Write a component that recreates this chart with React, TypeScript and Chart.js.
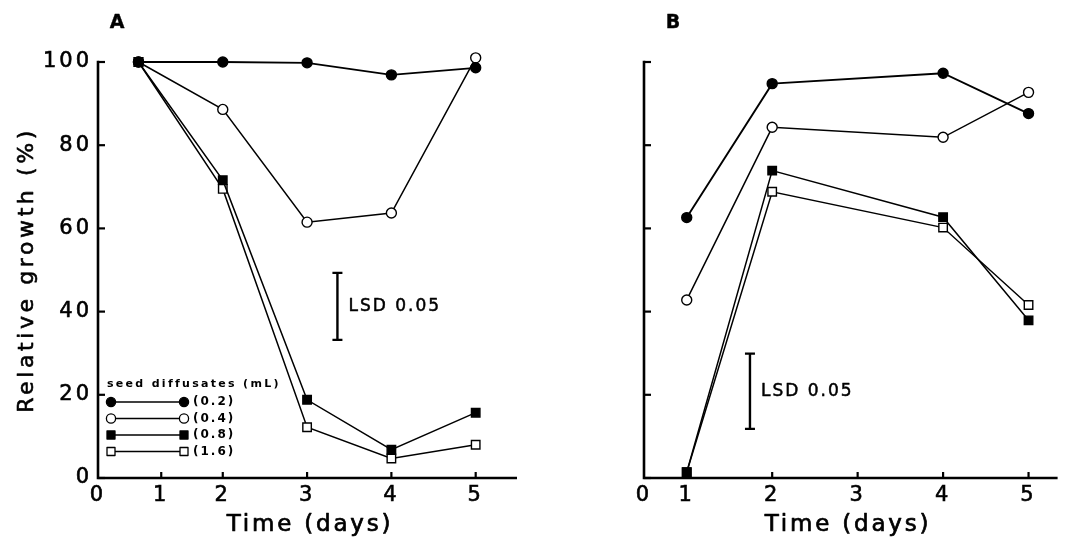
import { useEffect, useRef } from "react";
import { Chart, registerables } from "chart.js";

Chart.register(...registerables);

// ---------------- data ----------------
const seriesLabels = ["(0.2)", "(0.4)", "(0.8)", "(1.6)"];
const legendTitle = "seed diffusates (mL)";

const daysA = [1, 2, 3, 4, 5];
const growthA_02 = [100, 100, 99.8, 96.9, 98.6];
const growthA_04 = [100, 88.6, 61.5, 63.7, 101];
const growthA_08 = [100, 71.6, 18.8, 6.8, 15.7];
const growthA_16 = [100, 69.5, 12.2, 4.7, 8.0];

const daysB = [1, 2, 4, 5];
const growthB_02 = [62.6, 94.8, 97.3, 87.6];
const growthB_04 = [42.8, 84.3, 81.9, 92.7];
const growthB_08 = [1.4, 73.9, 62.7, 37.9];
const growthB_16 = [1.4, 68.8, 60.2, 41.6];

// LSD bars: [day, low, high]
const lsdA = [3.36, 33.2, 49.3];
const lsdB = [1.74, 11.8, 29.9];

const xTickLabels = ["0", "1", "2", "3", "4", "5"];
const xTickPosA = [0.52, 1.27, 2, 3, 4, 5];
const xTickPosB = [0.5, 1, 2, 3, 4, 5];
const yTicks = [0, 20, 40, 60, 80, 100];
const yTickLabels = ["0", "20", "40", "60", "80", "100"];

const FONT = "'DejaVu Sans', 'Liberation Sans', sans-serif";

// marker styles per series
const markerStyles = [
  { style: "circle", fill: "#000" },
  { style: "circle", fill: "#fff" },
  { style: "rect", fill: "#000" },
  { style: "rect", fill: "#fff" },
];

function makeDatasets(days: number[], series: number[][]) {
  return series.map((vals, si) => {
    const m = markerStyles[si];
    return {
      label: seriesLabels[si],
      data: days.map((d, i) => ({ x: d, y: vals[i] })),
      borderColor: "#000",
      borderWidth: si === 0 ? 1.9 : 1.5,
      pointStyle: m.style,
      pointRadius: m.style === "rect" ? 6 : 5,
      pointBackgroundColor: m.fill,
      pointBorderColor: "#000",
      pointBorderWidth: 1.4,
      tension: 0,
      clip: false as any,
      fill: false,
    };
  });
}

type PanelCfg = {
  letter: string;
  letterX: number;
  days: number[];
  series: number[][];
  xMin: number;
  xMax: number;
  xTickPos: number[];
  yAxisWidth: number;
  rightPad: number;
  showYLabels: boolean;
  lsd: number[];
  timeX: number;
  legend: boolean;
};

function drawMarker(ctx: CanvasRenderingContext2D, x: number, y: number, si: number) {
  const m = markerStyles[si];
  ctx.save();
  ctx.fillStyle = m.fill;
  ctx.strokeStyle = "#000";
  ctx.lineWidth = 1.3;
  ctx.beginPath();
  if (m.style === "circle") {
    ctx.arc(x, y, 4.6, 0, Math.PI * 2);
  } else {
    ctx.rect(x - 4, y - 4, 8, 8);
  }
  ctx.fill();
  ctx.stroke();
  ctx.restore();
}

function boldText(ctx: CanvasRenderingContext2D, text: string, x: number, y: number, w: number) {
  ctx.lineWidth = w;
  ctx.lineJoin = "round";
  ctx.strokeText(text, x, y);
  ctx.fillText(text, x, y);
}

function makeDeco(cfg: PanelCfg) {
  return {
    id: "deco" + cfg.letter,
    beforeDraw(chart: any) {
      (chart.ctx as any).letterSpacing = "3px";
    },
    beforeDatasetsDraw(chart: any) {
      const ctx: CanvasRenderingContext2D = chart.ctx;
      const { left, right, top, bottom } = chart.chartArea;
      const xs = chart.scales.x;
      const ys = chart.scales.y;
      ctx.save();
      ctx.strokeStyle = "#000";
      ctx.lineWidth = 2.6;
      ctx.lineCap = "butt";
      ctx.beginPath();
      ctx.moveTo(left, top - 1.3);
      ctx.lineTo(left, bottom);
      ctx.lineTo(right, bottom);
      ctx.stroke();
      ctx.lineWidth = 2.2;
      for (const v of yTicks) {
        const y = ys.getPixelForValue(v);
        ctx.beginPath();
        ctx.moveTo(left, y);
        ctx.lineTo(left + 7, y);
        ctx.stroke();
      }
      cfg.xTickPos.forEach((v, i) => {
        if (i === 0) return;
        const x = xs.getPixelForValue(v);
        ctx.beginPath();
        ctx.moveTo(x, bottom);
        ctx.lineTo(x, bottom - 6);
        ctx.stroke();
      });
      ctx.restore();
    },
    afterDatasetsDraw(chart: any) {
      const ctx: CanvasRenderingContext2D = chart.ctx;
      const { top, bottom } = chart.chartArea;
      const xs = chart.scales.x;
      const ys = chart.scales.y;
      ctx.save();
      ctx.fillStyle = "#000";
      ctx.strokeStyle = "#000";

      // LSD bar
      const lx = xs.getPixelForValue(cfg.lsd[0]);
      const ly1 = ys.getPixelForValue(cfg.lsd[1]);
      const ly2 = ys.getPixelForValue(cfg.lsd[2]);
      ctx.lineWidth = 2.4;
      ctx.beginPath();
      ctx.moveTo(lx, ly1);
      ctx.lineTo(lx, ly2);
      ctx.moveTo(lx - 5, ly1);
      ctx.lineTo(lx + 5, ly1);
      ctx.moveTo(lx - 5, ly2);
      ctx.lineTo(lx + 5, ly2);
      ctx.stroke();
      (ctx as any).letterSpacing = "2px";
      ctx.font = `17px ${FONT}`;
      ctx.textAlign = "left";
      ctx.textBaseline = "middle";
      boldText(ctx, "LSD 0.05", lx + 11, (ly1 + ly2) / 2, 0.5);

      // panel letter
      (ctx as any).letterSpacing = "0px";
      ctx.font = `bold 19px ${FONT}`;
      ctx.textAlign = "center";
      boldText(ctx, cfg.letter, cfg.letterX, 23, 0.4);

      // x title
      (ctx as any).letterSpacing = "2.8px";
      ctx.font = `23px ${FONT}`;
      ctx.textAlign = "center";
      boldText(ctx, "Time (days)", cfg.timeX, 525, 0.7);

      // y title
      if (cfg.showYLabels) {
        ctx.save();
        ctx.translate(27, (top + bottom) / 2);
        ctx.rotate(-Math.PI / 2);
        (ctx as any).letterSpacing = "3.6px";
        ctx.font = `22px ${FONT}`;
        ctx.textAlign = "center";
        ctx.textBaseline = "middle";
        boldText(ctx, "Relative growth (%)", 0, 0, 0.6);
        ctx.restore();
      }

      // legend
      if (cfg.legend) {
        (ctx as any).letterSpacing = "2.3px";
        ctx.font = `bold 11px ${FONT}`;
        ctx.textAlign = "left";
        ctx.textBaseline = "middle";
        ctx.fillText(legendTitle, 107, 384);
        const rows = [402, 418.5, 435, 451.5];
        rows.forEach((ry, si) => {
          ctx.lineWidth = 1.5;
          ctx.beginPath();
          ctx.moveTo(111, ry);
          ctx.lineTo(184, ry);
          ctx.stroke();
          drawMarker(ctx, 111, ry, si);
          drawMarker(ctx, 184, ry, si);
          (ctx as any).letterSpacing = "2px";
          ctx.font = `bold 12px ${FONT}`;
          ctx.fillStyle = "#000";
          ctx.fillText(seriesLabels[si], 193, ry);
        });
      }
      ctx.restore();
    },
  };
}

function buildConfig(cfg: PanelCfg): any {
  return {
    type: "line",
    data: { datasets: makeDatasets(cfg.days, cfg.series) },
    plugins: [makeDeco(cfg)],
    options: {
      animation: false,
      responsive: false,
      events: [],
      layout: { padding: { left: 0, right: cfg.rightPad, top: 62, bottom: 0 } },
      plugins: { legend: { display: false }, tooltip: { enabled: false }, title: { display: false } },
      scales: {
        x: {
          type: "linear",
          min: cfg.xMin,
          max: cfg.xMax,
          afterBuildTicks: (s: any) => {
            s.ticks = cfg.xTickPos.map((v) => ({ value: v }));
          },
          afterFit: (s: any) => {
            s.height = 63;
          },
          grid: { display: false, drawTicks: false },
          border: { display: false },
          ticks: {
            autoSkip: false,
            maxRotation: 0,
            minRotation: 0,
            padding: 5,
            color: "#000",
            textStrokeColor: "#000",
            textStrokeWidth: 0.6,
            font: { family: FONT, size: 21 },
            callback: (_v: any, i: number) => xTickLabels[i],
          },
        },
        y: {
          type: "linear",
          min: 0,
          max: 100,
          afterBuildTicks: (s: any) => {
            s.ticks = yTicks.map((v) => ({ value: v }));
          },
          afterFit: (s: any) => {
            s.width = cfg.yAxisWidth;
          },
          grid: { display: false, drawTicks: false },
          border: { display: false },
          ticks: {
            display: cfg.showYLabels,
            padding: 6,
            color: "#000",
            textStrokeColor: "#000",
            textStrokeWidth: 0.6,
            font: { family: FONT, size: 21 },
            callback: (_v: any, i: number) => yTickLabels[i],
          },
        },
      },
    },
  };
}

const panelA: PanelCfg = {
  letter: "A",
  letterX: 117,
  days: daysA,
  series: [growthA_02, growthA_04, growthA_08, growthA_16],
  xMin: 0.52,
  xMax: 5.49,
  xTickPos: xTickPosA,
  yAxisWidth: 98,
  rightPad: 23,
  showYLabels: true,
  lsd: lsdA,
  timeX: 310,
  legend: true,
};

const panelB: PanelCfg = {
  letter: "B",
  letterX: 133,
  days: daysB,
  series: [growthB_02, growthB_04, growthB_08, growthB_16],
  xMin: 0.5,
  xMax: 5.34,
  xTickPos: xTickPosB,
  yAxisWidth: 104,
  rightPad: 3,
  showYLabels: false,
  lsd: lsdB,
  timeX: 308,
  legend: false,
};

export default function App() {
  const refA = useRef<HTMLCanvasElement>(null);
  const refB = useRef<HTMLCanvasElement>(null);
  useEffect(() => {
    document.body.style.margin = "0";
    const a = new Chart(refA.current!, buildConfig(panelA));
    const b = new Chart(refB.current!, buildConfig(panelB));
    return () => {
      a.destroy();
      b.destroy();
    };
  }, []);
  return (
    <div style={{ position: "relative", width: 1065, height: 541, background: "#fff" }}>
      <canvas ref={refA} width={540} height={541} style={{ position: "absolute", left: 0, top: 0 }} />
      <canvas ref={refB} width={525} height={541} style={{ position: "absolute", left: 540, top: 0 }} />
    </div>
  );
}
